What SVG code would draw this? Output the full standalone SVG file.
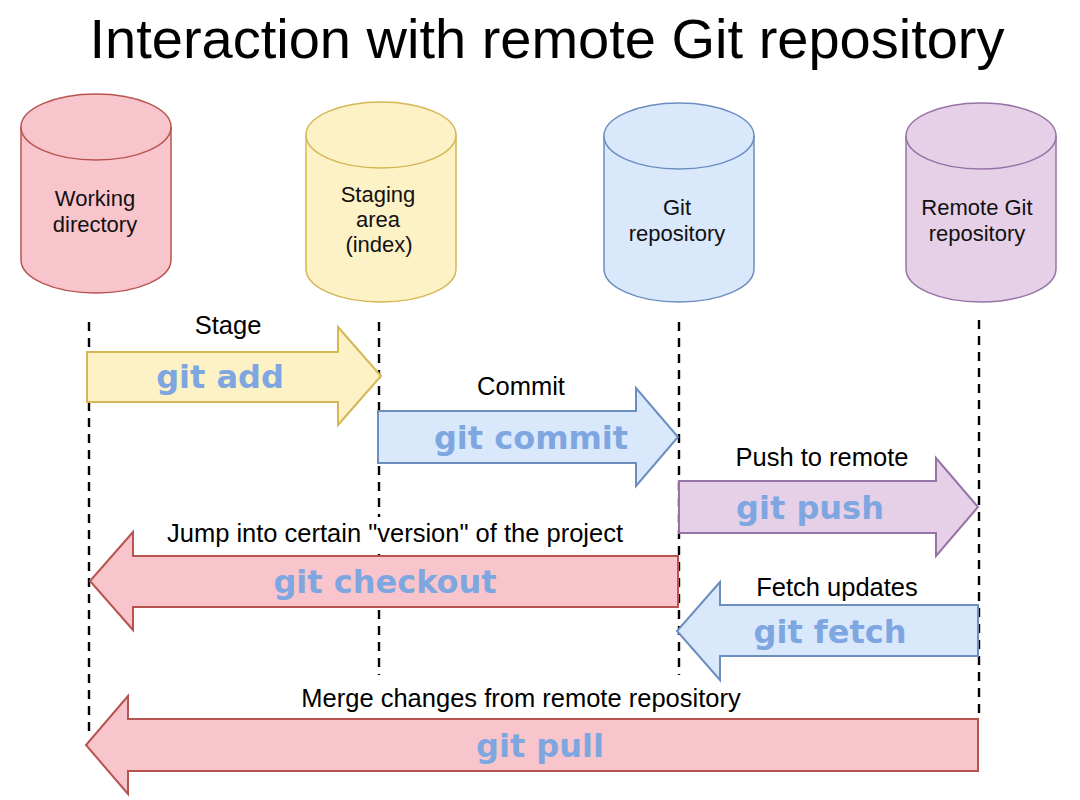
<svg xmlns="http://www.w3.org/2000/svg" width="1080" height="800" viewBox="0 0 1080 800">
<style>
.title{font-family:"Liberation Sans",Arial,sans-serif;font-size:56px;fill:#000;text-anchor:middle}
.cyl{font-family:"Liberation Sans",Arial,sans-serif;font-size:22px;fill:#111;text-anchor:middle}
.lbl{font-family:"Liberation Sans",Arial,sans-serif;font-size:25.5px;fill:#000;text-anchor:middle}
.cmd{font-family:"DejaVu Sans",sans-serif;font-weight:bold;font-size:32px;fill:#7ea6e0;text-anchor:middle}
.dash{stroke:#000;stroke-width:2.4;stroke-dasharray:9 7;fill:none}
.pink{fill:#f9c5cc;stroke:#b85450;stroke-width:2}
.yellow{fill:#fdf1c6;stroke:#d6b656;stroke-width:2}
.blue{fill:#dae8fc;stroke:#6c8ebf;stroke-width:2}
.purple{fill:#e6d0e8;stroke:#9673a6;stroke-width:2}
.rim{fill:none;stroke-width:1.5}
</style>
<rect width="1080" height="800" fill="#fff"/>
<text class="title" x="547" y="58">Interaction with remote Git repository</text>

<g id="working-directory">
<path class="pink" style="stroke-width:1.5" d="M21 127 A75 33 0 0 1 171 127 V260 A75 33 0 0 1 21 260 Z"/>
<path class="rim" stroke="#b85450" d="M21 127 A75 33 0 0 0 171 127"/>
<text class="cyl" x="95" y="206">Working</text>
<text class="cyl" x="95" y="232">directory</text>
</g>
<g id="staging-area">
<path class="yellow" style="stroke-width:1.5" d="M306 135 A75 33 0 0 1 456 135 V269 A75 33 0 0 1 306 269 Z"/>
<path class="rim" stroke="#d6b656" d="M306 135 A75 33 0 0 0 456 135"/>
<text class="cyl" x="378" y="202">Staging</text>
<text class="cyl" x="378" y="227">area</text>
<text class="cyl" x="379" y="252">(index)</text>
</g>
<g id="git-repository">
<path class="blue" style="stroke-width:1.5" d="M604 136 A75 33 0 0 1 754 136 V269 A75 33 0 0 1 604 269 Z"/>
<path class="rim" stroke="#6c8ebf" d="M604 136 A75 33 0 0 0 754 136"/>
<text class="cyl" x="677" y="215">Git</text>
<text class="cyl" x="677" y="241">repository</text>
</g>
<g id="remote-git-repository">
<path class="purple" style="stroke-width:1.5" d="M906 136 A75 33 0 0 1 1056 136 V269 A75 33 0 0 1 906 269 Z"/>
<path class="rim" stroke="#9673a6" d="M906 136 A75 33 0 0 0 1056 136"/>
<text class="cyl" x="977" y="215">Remote Git</text>
<text class="cyl" x="977" y="241">repository</text>
</g>

<g id="connectors">
<g id="lifelines">
<line class="dash" x1="89" y1="322" x2="89" y2="735"/>
<line class="dash" x1="379" y1="322" x2="379" y2="675"/>
<line class="dash" x1="679" y1="322" x2="679" y2="675"/>
<line class="dash" x1="979" y1="320" x2="979" y2="720"/>
</g>
<g id="git-add">
<path class="yellow" d="M87 352 H338 V327 L381 376 L338 425 V402 H87 Z"/>
<text class="lbl" x="228" y="334">Stage</text>
<text class="cmd" x="220" y="388">git add</text>
</g>
<g id="git-commit">
<path class="blue" d="M378 411 H636 V388 L678 437 L636 486 V463 H378 Z"/>
<text class="lbl" x="521" y="395">Commit</text>
<text class="cmd" x="531" y="449">git commit</text>
</g>
<g id="git-push">
<path class="purple" d="M679 481 H936 V458 L978 507 L936 556 V533 H679 Z"/>
<text class="lbl" x="822" y="466">Push to remote</text>
<text class="cmd" x="810" y="519">git push</text>
</g>
<g id="git-checkout">
<rect x="160" y="517" width="472" height="37" fill="#fff"/>
<path class="pink" d="M678 556 H133 V532 L90 581 L133 630 V607 H678 Z"/>
<text class="lbl" x="395" y="542">Jump into certain "version" of the project</text>
<text class="cmd" x="385" y="593">git checkout</text>
</g>
<g id="git-fetch">
<path class="blue" d="M978 605 H720 V582 L677 631 L720 680 V656 H978 Z"/>
<text class="lbl" x="837" y="596">Fetch updates</text>
<text class="cmd" x="830" y="643">git fetch</text>
</g>
<g id="git-pull">
<path class="pink" d="M978 719 H128 V696 L86 745 L128 794 V771 H978 Z"/>
<text class="lbl" x="521" y="707">Merge changes from remote repository</text>
<text class="cmd" x="540" y="757">git pull</text>
</g>
</g>
</svg>
